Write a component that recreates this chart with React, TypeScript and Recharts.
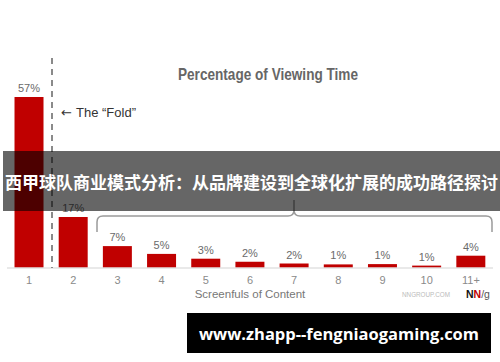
import React from 'react';
import { BarChart, Bar, XAxis, YAxis, LabelList } from 'recharts';

const categories = ['1', '2', '3', '4', '5', '6', '7', '8', '9', '10', '11+'];
const viewingShare = [57, 17, 7.3, 4.7, 3.1, 2.1, 1.5, 1.2, 1.3, 0.8, 4.1];
const shareLabels = ['57%', '17%', '7%', '5%', '3%', '2%', '2%', '1%', '1%', '1%', '4%'];

const chartTitle = 'Percentage of Viewing Time';
const axisTitle = 'Screenfuls of Content';
const foldText = 'The \u201CFold\u201D';
const bannerText = '西甲球队商业模式分析：从品牌建设到全球化扩展的成功路径探讨';
const footerText = 'www.zhapp--fengniaogaming.com';

const data = categories.map((c, i) => ({ name: c, value: viewingShare[i], label: shareLabels[i] }));

export default function App() {
  return (
    <div style={{ position: 'absolute', left: 0, top: 0, width: 500, height: 362, background: '#fff', overflow: 'hidden' }}>
      <BarChart width={500} height={362} data={data} margin={{ top: 88, right: 7, bottom: 64, left: 7 }} barCategoryGap="17%">
        <XAxis
          dataKey="name"
          axisLine={{ stroke: '#e2e2e2', strokeWidth: 1.5 }}
          tickLine={false}
          tick={{ fill: '#8a8a8a', fontSize: 11, fontFamily: 'Liberation Sans, Arial, sans-serif' }}
          height={30}
          interval={0}
        />
        <YAxis hide domain={[0, 60]} />
        <Bar dataKey="value" fill="#c00000" isAnimationActive={false}>
          <LabelList
            dataKey="label"
            position="top"
            offset={5}
            style={{ fill: '#6a6a6a', fontSize: 11, fontFamily: 'Liberation Sans, Arial, sans-serif' }}
          />
        </Bar>
      </BarChart>
      <svg width={500} height={362} style={{ position: 'absolute', left: 0, top: 0, pointerEvents: 'none' }}>
        <text x={178} y={80} textLength={180} lengthAdjust="spacingAndGlyphs" fill="#666" fontSize={16.5} fontWeight="bold" fontFamily="Liberation Sans, Arial, sans-serif">
          {chartTitle}
        </text>
        <line x1={52} y1={58} x2={52} y2={268} stroke="#8a8a8a" strokeWidth={2} strokeDasharray="6 5" />
        <text x={61} y={117} fill="#333" fontSize={13} fontFamily="DejaVu Sans, sans-serif">{'\u2190'}</text>
        <text x={76} y={117} fill="#333" fontSize={13} fontFamily="Liberation Sans, Arial, sans-serif">
          {foldText}
        </text>
        <path
          d="M97,232 L97,222 Q97,216 103,216 L288,216 Q294,216 294,210 L294,200 M294,210 Q294,216 300,216 L486,216 Q492,216 492,222 L492,232"
          fill="none"
          stroke="#9a9a9a"
          strokeWidth={1.5}
        />
        <text x={250} y={298} textAnchor="middle" fill="#777" fontSize={11.5} fontFamily="Liberation Sans, Arial, sans-serif">
          {axisTitle}
        </text>
        <text x={402} y={297} textLength={48} lengthAdjust="spacingAndGlyphs" fill="#bbb" fontSize={8} fontFamily="Liberation Sans, Arial, sans-serif">
          NNGROUP.COM
        </text>
        <text x={466} y={298} fontSize={10.5} fontFamily="Liberation Sans, Arial, sans-serif">
          <tspan fill="#111" fontWeight="bold">N</tspan>
          <tspan fill="#c00000" fontWeight="bold">N</tspan>
          <tspan fill="#555">/g</tspan>
        </text>
      </svg>
      <div
        style={{
          position: 'absolute', left: 3, top: 151, width: 497, height: 60,
          background: 'rgba(0,0,0,0.6)', color: '#fff', display: 'flex', alignItems: 'center', justifyContent: 'center',
          fontFamily: '"Noto Sans CJK SC", sans-serif', fontWeight: 'bold', fontSize: 17, whiteSpace: 'nowrap',
        }}
      >
        {bannerText}
      </div>
      <div
        style={{
          position: 'absolute', left: 187, top: 313, width: 304, height: 40,
          background: '#000', color: '#fff', display: 'flex', alignItems: 'center', justifyContent: 'center',
          fontFamily: '"Open Sans", sans-serif', fontWeight: 'bold', fontSize: 16.5, whiteSpace: 'nowrap',
        }}
      >
        {footerText}
      </div>
    </div>
  );
}
